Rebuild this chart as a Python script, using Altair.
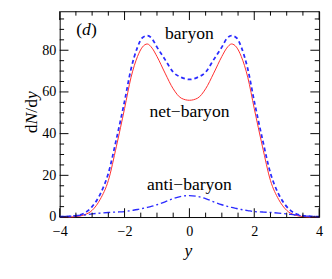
import altair as alt
import pandas as pd

# rapidity grid
y_vals = [-4, -3.75, -3.5, -3.25, -3, -2.75, -2.5, -2.25, -2, -1.8, -1.6, -1.45, -1.3, -1.15, -1,
          -0.75, -0.5, -0.25, 0, 0.25, 0.5, 0.75, 1, 1.15, 1.3, 1.45, 1.6, 1.8, 2, 2.25, 2.5,
          2.75, 3, 3.25, 3.5, 3.75, 4]

net_baryon = [0, 0, 0.2, 1.0, 3.2, 8.5, 17.5, 34, 52, 67, 77, 81.5, 83, 81, 77,
              69, 61.5, 57, 56, 57, 61.5, 69, 77, 81, 83, 81.5, 77, 67, 52, 34, 17.5,
              8.5, 3.2, 1.0, 0.2, 0, 0]

baryon = [0.2, 0.3, 0.7, 1.8, 5, 11, 21, 37.5, 55.5, 71, 81.5, 86, 87, 85.5, 81.5,
          75.5, 69.5, 67, 66, 67, 69.5, 75.5, 81.5, 85.5, 87, 86, 81.5, 71, 55.5, 37.5, 21,
          11, 5, 1.8, 0.7, 0.3, 0.2]

anti_baryon = [0.2, 0.35, 0.6, 1.0, 1.5, 1.9, 2.2, 2.4, 2.6, 3.1, 3.6, 4.1, 4.6, 5.2, 5.9,
               7.3, 8.8, 9.9, 10.3, 9.9, 8.8, 7.3, 5.9, 5.2, 4.6, 4.1, 3.6, 3.1, 2.6, 2.4, 2.2,
               1.9, 1.5, 1.0, 0.6, 0.35, 0.2]

x_major = [-4, -2, 0, 2, 4]
x_minor = [-3.5, -3, -2.5, -1.5, -1, -0.5, 0.5, 1, 1.5, 2.5, 3, 3.5]
y_major = [0, 20, 40, 60, 80]
y_minor = [5, 10, 15, 25, 30, 35, 45, 50, 55, 65, 70, 75, 85, 90, 95]

W, H = 266, 211
SERIF = "Liberation Serif"

df = pd.DataFrame({"y": y_vals, "net": net_baryon, "bar": baryon, "anti": anti_baryon})
one = pd.DataFrame({"k": [0]})

xs = alt.Scale(domain=[-4, 4], nice=False, zero=False)
ys = alt.Scale(domain=[0, 98.7], nice=False, zero=False)

xax = alt.Axis(values=x_major, labelFont=SERIF, labelFontSize=14.5, labelColor="black",
               ticks=False, domain=False, grid=False, labelPadding=7.5, title=None,
               labelFlush=False)
yax = alt.Axis(values=y_major, labelFont=SERIF, labelFontSize=14.5, labelColor="black",
               ticks=False, domain=False, grid=False, labelPadding=4, title=None)

base = alt.Chart(df)

net_line = base.mark_line(color="#ff2a2a", strokeWidth=1.0, interpolate="monotone").encode(
    x=alt.X("y:Q", scale=xs, axis=xax),
    y=alt.Y("net:Q", scale=ys, axis=yax),
)
bar_line = base.mark_line(color="#2a2aff", strokeWidth=1.8, strokeDash=[4, 3],
                          interpolate="monotone").encode(
    x=alt.X("y:Q", scale=xs), y=alt.Y("bar:Q", scale=ys))
anti_line = base.mark_line(color="#2a2aff", strokeWidth=1.4, strokeDash=[7, 3, 2, 3],
                           interpolate="monotone").encode(
    x=alt.X("y:Q", scale=xs), y=alt.Y("anti:Q", scale=ys))

# inward ticks
xmaj = pd.DataFrame({"t": x_major})
xmin = pd.DataFrame({"t": x_minor})
ymaj = pd.DataFrame({"t": y_major})
ymin = pd.DataFrame({"t": y_minor})

def xticks(d, L):
    b = alt.Chart(d).mark_rule(color="black", strokeWidth=1)
    return (b.encode(x=alt.X("t:Q", scale=xs), y=alt.value(H), y2=alt.value(H - L)) +
            b.encode(x=alt.X("t:Q", scale=xs), y=alt.value(0), y2=alt.value(L)))

def yticks(d, L):
    b = alt.Chart(d).mark_rule(color="black", strokeWidth=1)
    return (b.encode(y=alt.Y("t:Q", scale=ys), x=alt.value(0), x2=alt.value(L)) +
            b.encode(y=alt.Y("t:Q", scale=ys), x=alt.value(W), x2=alt.value(W - L)))

ticks = xticks(xmaj, 9) + xticks(xmin, 4.5) + yticks(ymaj, 9) + yticks(ymin, 4.5)

def txt(s, x, y, italic=False, size=18, angle=0, align="center", baseline="alphabetic"):
    kw = dict(text=s, font=SERIF, fontSize=size, color="black", align=align, baseline=baseline)
    if italic:
        kw["fontStyle"] = "italic"
    if angle:
        kw["angle"] = angle
    return alt.Chart(one).mark_text(**kw).encode(x=alt.value(x), y=alt.value(y))

labels = (
    txt("baryon", 133, 28) +
    txt("net\u2212baryon", 133, 108) +
    txt("anti\u2212baryon", 133, 183) +
    txt("(", 17, 24, align="left") +
    txt("d", 23, 24, italic=True, align="left") +
    txt(")", 32, 24, align="left") +
    txt("y", 132, 251, italic=True) +
    # y-axis title dN/dy, rotated
    txt("d", -23, 125, angle=270, align="left") +
    txt("N", -23, 116, italic=True, angle=270, align="left") +
    txt("/d", -23, 104, angle=270, align="left") +
    txt("y", -23, 90, italic=True, angle=270, align="left")
)

chart = alt.layer(net_line, bar_line, anti_line, ticks, labels).properties(
    width=W, height=H,
    autosize=alt.AutoSizeParams(type="none"),
    padding={"left": 53, "top": 0, "right": 5, "bottom": 52},
).configure_view(stroke="black", strokeWidth=1)

chart.save("out.html", embed_options={"renderer": "svg", "actions": False})
